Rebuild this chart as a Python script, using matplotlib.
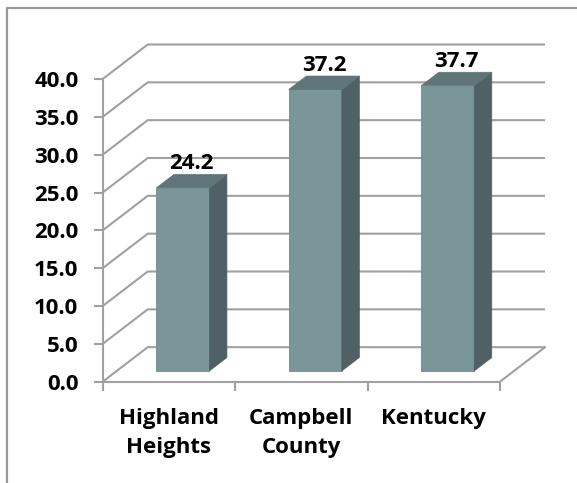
import matplotlib.pyplot as plt
from matplotlib.patches import Polygon
from matplotlib.lines import Line2D

# data
categories = ["Highland\nHeights", "Campbell\nCounty", "Kentucky"]
values = [24.2, 37.2, 37.7]
yticks = [0, 5, 10, 15, 20, 25, 30, 35, 40]

# 3-D look: depth of the floor in data units, and where each bar sits in it
DX, DY = 0.34, 4.56
F0, F1 = 0.31, 0.70
BAR_W = 0.40

GRID = "#a0a0a0"
FRONT = "#7b9698"
SIDE = "#4f6164"
TOP = "#5f7577"
FS = 16

plt.rcParams["font.family"] = ["Open Sans", "DejaVu Sans"]
plt.rcParams["font.weight"] = "bold"

fig = plt.figure(figsize=(5.77, 4.83), dpi=100)
ax = fig.add_axes([102.7 / 577, (483 - 381.7) / 483,
                   (545 - 102.7) / 577, (381.7 - 44.5) / 483])
ax.set_xlim(0, 3 + DX)
ax.set_ylim(0, 40 + DY)

# back wall gridlines, each with its diagonal to the y axis
for v in yticks:
    ax.plot([0, DX, 3 + DX], [v, v + DY, v + DY], color=GRID, lw=1.5,
            solid_capstyle="butt", clip_on=False, zorder=1)
# right edge of the floor
ax.plot([3, 3 + DX], [0, DY], color=GRID, lw=1.5, clip_on=False, zorder=1)

# bars as front / side / top faces
bx, by = (F1 - F0) * DX, (F1 - F0) * DY
for i, v in enumerate(values):
    x0 = i + 0.5 - BAR_W / 2 + F0 * DX
    x1 = x0 + BAR_W
    y0 = F0 * DY
    y1 = y0 + v
    ax.add_patch(Polygon([(x0, y0), (x1, y0), (x1, y1), (x0, y1)],
                         closed=True, facecolor=FRONT, edgecolor="#6f8a8c",
                         lw=0.6, zorder=3))
    ax.add_patch(Polygon([(x1, y0), (x1 + bx, y0 + by), (x1 + bx, y1 + by), (x1, y1)],
                         closed=True, facecolor=SIDE, edgecolor=SIDE, lw=0.5, zorder=3))
    ax.add_patch(Polygon([(x0, y1), (x1, y1), (x1 + bx, y1 + by), (x0 + bx, y1 + by)],
                         closed=True, facecolor=TOP, edgecolor=TOP, lw=0.5, zorder=3))
    ax.annotate(f"{v:.1f}", xy=((x0 + x1 + bx) / 2, y1 + by), xytext=(0, 0),
                textcoords="offset points", ha="center", va="bottom",
                fontsize=FS, fontweight="bold", color="black", zorder=4)

# axes: left value axis and the front floor edge
for side in ("top", "right"):
    ax.spines[side].set_visible(False)
ax.spines["left"].set_bounds(0, 40)
ax.spines["bottom"].set_bounds(0, 3)
for side in ("left", "bottom"):
    ax.spines[side].set_color(GRID)
    ax.spines[side].set_linewidth(1.5)
    ax.spines[side].set_zorder(2)

ax.set_yticks(yticks)
ax.set_yticklabels([f"{t:.1f}" for t in yticks])
ax.set_xticks([0, 1, 2, 3])
ax.set_xticklabels([])
ax.set_xticks([0.5, 1.5, 2.5], minor=True)
ax.set_xticklabels(categories, minor=True, linespacing=1.5)
ax.tick_params(axis="both", which="major", direction="out", length=6.5,
               width=1.5, color=GRID, labelsize=FS, labelcolor="black")
ax.tick_params(axis="y", pad=11)
ax.tick_params(axis="x", which="minor", length=0, pad=19, labelsize=FS,
               labelcolor="black")
for lab in ax.get_yticklabels() + ax.get_xticklabels(minor=True):
    lab.set_fontweight("bold")

# chart area border (top and left edges)
fig.add_artist(Line2D([7 / 577, 7 / 577, 1], [0, 1 - 7.5 / 483, 1 - 7.5 / 483],
                      color="#999999", lw=1.6))

fig.savefig("out.png", dpi=100)
